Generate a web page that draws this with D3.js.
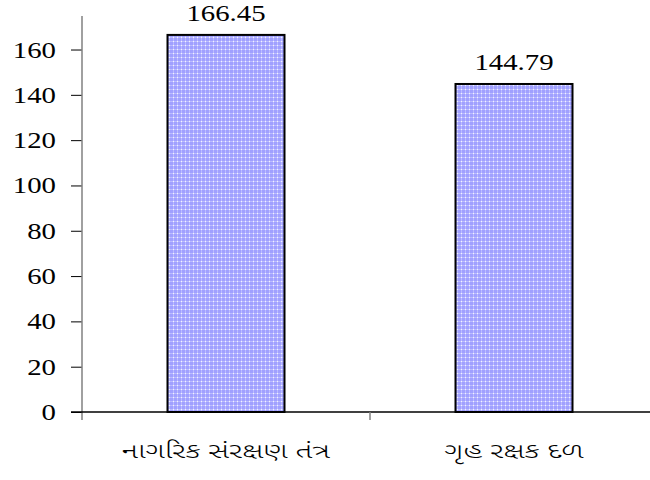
<!DOCTYPE html>
<html>
<head>
<meta charset="utf-8">
<script src="https://cdn.jsdelivr.net/npm/d3@7"></script>
<style>
  html, body { margin: 0; padding: 0; background: #fff; }
  svg { display: block; }
</style>
</head>
<body>
<svg id="chart" width="650" height="480"></svg>
<script>
// Categories and values
const categories = ["નાગરિક સંરક્ષણ તંત્ર", "ગૃહ રક્ષક દળ"];
const values = [166.45, 144.79];
const yTicks = [0, 20, 40, 60, 80, 100, 120, 140, 160];

const svg = d3.select("#chart");
const margin = { left: 82, top: 16, zero: 412 };
const bandWidth = 288;

const x = d3.scaleBand()
  .domain(categories)
  .range([margin.left, margin.left + bandWidth * categories.length])
  .paddingInner(0)
  .paddingOuter(0);

const y = d3.scaleLinear()
  .domain([0, 174.8])
  .range([margin.zero, margin.top]);

// Dotted fill pattern for the bars
const defs = svg.append("defs");
const pat = defs.append("pattern")
  .attr("id", "dots")
  .attr("patternUnits", "userSpaceOnUse")
  .attr("width", 4).attr("height", 4);
pat.append("rect").attr("width", 4).attr("height", 4).attr("fill", "#a0a0ff");
pat.append("rect").attr("x", 0).attr("y", 1).attr("width", 4).attr("height", 1).attr("fill", "#bcbcff");
pat.append("rect").attr("x", 1).attr("y", 0).attr("width", 1).attr("height", 4).attr("fill", "#bcbcff");
pat.append("rect").attr("x", 1).attr("y", 1).attr("width", 1).attr("height", 1).attr("fill", "#f2f2ff");

const serif = "'Liberation Serif', 'DejaVu Serif', serif";
const stretch = 1.2;

// Y axis ticks
const yAxis = d3.axisLeft(y).tickValues(yTicks).tickSize(11).tickFormat("");
const gy = svg.append("g").attr("transform", `translate(${margin.left},0)`).call(yAxis);
gy.select(".domain").remove();
gy.selectAll(".tick line").attr("stroke", "#000").attr("stroke-width", 1);

// Y tick labels (slightly widened serif digits)
svg.selectAll("text.ytl")
  .data(yTicks)
  .enter().append("text")
  .attr("class", "ytl")
  .attr("transform", d => `translate(56,${y(d) + 8}) scale(${stretch},1)`)
  .attr("text-anchor", "end")
  .attr("font-family", serif).attr("font-size", 24).attr("fill", "#000")
  .text(d => d);

svg.append("line")
  .attr("x1", margin.left).attr("x2", margin.left)
  .attr("y1", margin.top).attr("y2", margin.zero + 8)
  .attr("stroke", "#808080").attr("stroke-width", 1.5);

// Bars
const barW = 117;
svg.selectAll("rect.bar")
  .data(values)
  .enter().append("rect")
  .attr("class", "bar")
  .attr("x", (d, i) => x(categories[i]) + x.bandwidth() / 2 - barW / 2)
  .attr("y", d => y(d))
  .attr("width", barW)
  .attr("height", d => y(0) - y(d))
  .attr("fill", "url(#dots)")
  .attr("stroke", "#000")
  .attr("stroke-width", 2);

// Baseline and category ticks
svg.append("line")
  .attr("x1", margin.left - 11).attr("x2", 650)
  .attr("y1", y(0)).attr("y2", y(0))
  .attr("stroke", "#000").attr("stroke-width", 1.5);
svg.selectAll("line.ctick")
  .data(categories.slice(1))
  .enter().append("line")
  .attr("class", "ctick")
  .attr("x1", d => x(d)).attr("x2", d => x(d))
  .attr("y1", y(0)).attr("y2", y(0) + 8)
  .attr("stroke", "#808080").attr("stroke-width", 1.5);

// Value labels
svg.selectAll("text.val")
  .data(values)
  .enter().append("text")
  .attr("class", "val")
  .attr("transform", (d, i) => `translate(${x(categories[i]) + x.bandwidth() / 2},${y(d) - 14}) scale(${stretch},1)`)
  .attr("text-anchor", "middle")
  .attr("font-family", serif).attr("font-size", 24).attr("fill", "#000")
  .text(d => d.toFixed(2));

// Category labels
svg.selectAll("text.cat")
  .data(categories)
  .enter().append("text")
  .attr("class", "cat")
  .attr("transform", d => `translate(${x(d) + x.bandwidth() / 2},458) scale(1.45,1)`)
  .attr("text-anchor", "middle")
  .attr("font-family", "'Noto Sans Gujarati', 'Noto Sans', sans-serif")
  .attr("font-size", 21).attr("font-weight", 300).attr("fill", "#000")
  .text(d => d);
</script>
</body>
</html>
